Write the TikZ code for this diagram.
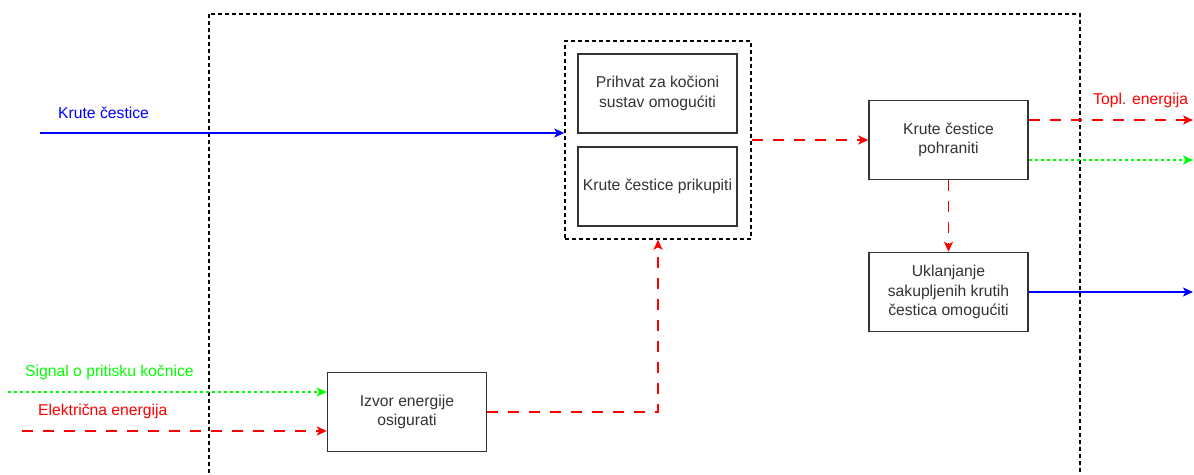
\documentclass[tikz,border=0pt]{standalone}
\usepackage{fontspec}
\setmainfont{Liberation Sans}
\usetikzlibrary{arrows.meta}
\definecolor{txtgray}{HTML}{333333}
\definecolor{lnblue}{HTML}{0000FF}
\definecolor{lnred}{HTML}{FF0000}
\definecolor{lngreen}{HTML}{00FF00}
\tikzset{
  fn/.style={font=\fontsize{15.7}{19.5}\selectfont},
  func/.style={draw=txtgray, line width=1.5pt, fill=white, minimum width=159pt, minimum height=79pt,
    inner sep=0pt, align=center, text=txtgray, fn},
  grpbox/.style={draw=black, line width=1.5pt, dash pattern=on 4pt off 3pt, minimum width=186pt, minimum height=198pt, inner sep=0pt},
  tip/.style={-{Stealth[length=10pt,width=9pt,inset=2.5pt]}},
  matflow/.style={tip, draw=lnblue, line width=1.6pt},
  enflow/.style={tip, draw=lnred, line width=1.6pt, dash pattern=on 11pt off 10pt},
  sigflow/.style={tip, draw=lngreen, line width=1.6pt, dash pattern=on 3pt off 3pt},
  lbl/.style={fn, inner sep=0pt, anchor=base west}
}
\begin{document}
\begin{tikzpicture}[x=1pt,y=-1pt]
\useasboundingbox (0,0) rectangle (1194,474);
\begin{scope}
\clip (0,0) rectangle (1194,474);
\draw[black, line width=1.5pt, dash pattern=on 4pt off 3pt] (209,14) rectangle (1080,490);
\end{scope}

\node[grpbox] (grp) at (658,140) {};
\node[func] (b1) at (657.5,93.5) {Prihvat za kočioni\\sustav omogućiti};
\node[func] (b2) at (657.5,186.5) {Krute čestice prikupiti};
\node[func] (poh) at (948.5,140) {Krute čestice\\pohraniti};
\node[func] (ukl) at (948.5,292) {Uklanjanje\\sakupljenih krutih\\čestica omogućiti};
\node[func] (izv) at (407,412) {Izvor energije\\osigurati};

\coordinate (kin) at (40,133);
\coordinate (topl) at (1193,120);
\coordinate (gout) at (1193,160);
\coordinate (bout) at (1193,292);
\coordinate (gin) at (8,392);
\coordinate (ein) at (22,431);

\draw[matflow] (kin) -- (kin -| grp.west);
\draw[enflow] (grp.east) -- (grp.east -| poh.west);
\draw[enflow] (topl -| poh.east) -- (topl);
\draw[sigflow] (gout -| poh.east) -- (gout);
\draw[enflow] (poh.south) -- (ukl.north);
\draw[matflow] (ukl.east) -- (bout);
\draw[sigflow] (gin) -- (gin -| izv.west);
\draw[enflow] (ein) -- (ein -| izv.west);
\draw[enflow] (izv.east) -| (grp.south);

\node[lbl, text=lnblue] (lk) at (58,118) {Krute čestice};
\node[lbl, text=lnred] (lt) at (1093,104) {Topl. energija};
\node[lbl, text=lngreen] (ls) at (25,376) {Signal o pritisku kočnice};
\node[lbl, text=lnred] (le) at (38,415) {Električna energija};
\end{tikzpicture}
\end{document}
